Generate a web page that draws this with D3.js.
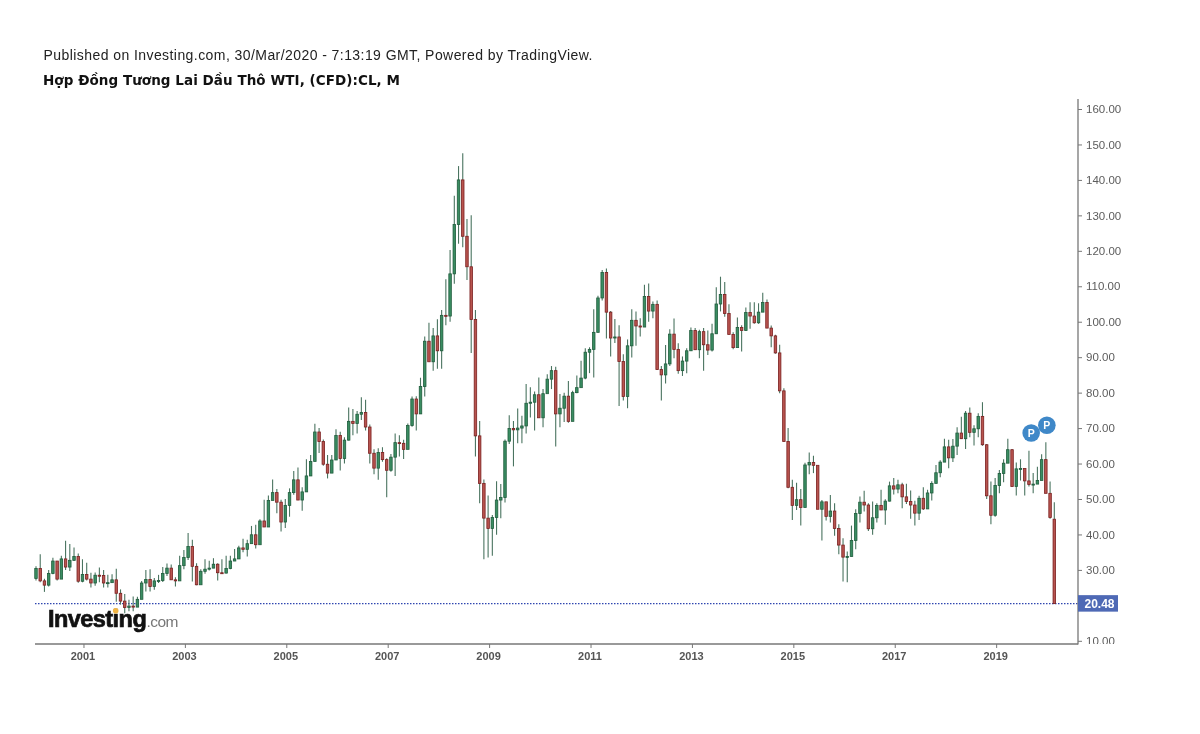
<!DOCTYPE html>
<html>
<head>
<meta charset="utf-8">
<script src="https://cdn.jsdelivr.net/npm/d3@7"></script>
<style>
  html, body { margin: 0; padding: 0; background: #fff; }
  svg { display: block; filter: blur(0.35px); }
</style>
</head>
<body>
<div id="chart"></div>
<script>
// monthly bars, Feb 2000 to Mar 2020, one row per year
const opens = [
  27.6, 30.4, 26.9, 25.7, 29.0, 32.5, 27.4, 33.1, 30.8, 32.7, 33.8,
  26.8, 28.7, 27.4, 26.3, 28.5, 28.4, 26.3, 26.4, 27.2, 23.4, 21.2, 19.4,
  19.8, 19.5, 21.7, 26.3, 27.3, 25.3, 26.9, 27.0, 29.0, 30.5, 27.2, 26.9,
  31.2, 33.5, 36.6, 31.0, 25.8, 29.6, 30.2, 30.5, 31.6, 29.2, 29.1, 30.4,
  32.5, 33.1, 36.2, 35.8, 37.4, 39.9, 37.1, 43.8, 42.1, 49.6, 51.8, 49.1,
  43.5, 48.2, 51.8, 55.4, 49.7, 52.0, 56.5, 60.6, 68.9, 66.2, 59.8, 57.3,
  61.0, 67.9, 61.4, 66.6, 71.9, 71.3, 73.9, 74.4, 70.3, 62.9, 58.7, 63.1,
  61.1, 58.1, 61.8, 65.9, 65.7, 64.0, 70.7, 78.2, 74.0, 81.7, 94.5, 88.7,
  96.0, 91.8, 101.8, 101.6, 113.5, 127.4, 140.0, 124.1, 115.5, 100.6, 67.8, 54.4,
  44.6, 41.7, 44.8, 49.7, 50.4, 66.3, 69.9, 69.5, 70.0, 70.6, 77.0, 77.3,
  79.4, 72.9, 79.7, 83.8, 86.2, 74.0, 75.6, 79.0, 71.9, 80.0, 81.4, 84.1,
  91.4, 92.2, 97.0, 106.7, 113.9, 102.7, 95.4, 95.7, 88.8, 78.9, 93.2, 100.4,
  98.8, 98.5, 107.1, 103.0, 104.9, 86.5, 85.0, 88.1, 96.5, 92.2, 86.2, 88.9,
  91.8, 97.5, 92.1, 97.2, 93.5, 92.0, 96.6, 105.0, 107.7, 102.3, 96.4, 92.7,
  98.4, 97.5, 102.6, 101.6, 99.7, 102.7, 105.4, 98.2, 96.0, 91.2, 80.5, 66.2,
  53.3, 48.2, 49.8, 47.6, 59.6, 60.3, 59.5, 47.1, 49.2, 45.1, 46.6, 41.7,
  37.0, 33.6, 33.8, 38.3, 45.9, 49.1, 48.3, 41.6, 44.7, 48.2, 46.9, 49.4,
  53.7, 52.8, 54.0, 50.6, 49.3, 48.3, 46.0, 50.2, 47.2, 51.7, 54.4, 57.4,
  60.4, 64.7, 61.6, 64.9, 68.6, 67.0, 74.2, 68.8, 69.8, 73.3, 65.3, 50.9,
  45.4, 53.8, 57.2, 60.1, 63.9, 53.5, 58.5, 58.6, 55.1, 54.1, 54.2, 55.2,
  61.1, 51.6, 44.3
]
const highs = [
  31, 34.4, 27.5, 30, 33.4, 32.5, 34, 38.2, 37.3, 36.3, 34.6,
  33, 32, 29.2, 29.3, 30.7, 30, 28.6, 28.8, 30.3, 24.5, 23.2, 21.6,
  22.5, 22.4, 26.9, 30, 30.2, 27.7, 28.6, 30.8, 31.8, 31.5, 27.9, 34,
  35.6, 40.4, 38.5, 31.9, 30.2, 33, 32.6, 33.3, 31.9, 33, 34, 34,
  35.9, 36.8, 38.8, 38.5, 42.4, 42.7, 44.3, 49.8, 51, 55.5, 52.8, 49.8,
  50, 53, 57.9, 58.9, 53.3, 61.2, 62.4, 71.2, 70, 66.8, 62.4, 62.4,
  69.7, 69, 67.4, 75.8, 75.4, 74.8, 78.7, 78, 71, 64, 64.3, 64.6,
  61.5, 62.7, 68.5, 68, 66.7, 71.3, 78.9, 79, 84.2, 95.8, 99.7, 98.2,
  100.7, 103.3, 112, 120.2, 135.5, 143.9, 147.5, 129, 130, 103.3, 72, 55.5,
  51, 45.5, 55, 54.2, 66.8, 73.6, 72, 75.5, 73.5, 82.4, 81.5, 80.3,
  84.3, 81, 85.2, 87.5, 87.3, 79.6, 80, 83.3, 80.5, 84.8, 89, 92.5,
  92.8, 103.5, 107.3, 114.6, 115, 103, 100.8, 99, 90.8, 95, 103.5, 102.9,
  101, 110.4, 110.8, 105.7, 106, 87.5, 93.4, 97.9, 100.9, 93.9, 90.2, 92.5,
  98.4, 98.2, 97.7, 98.2, 97.5, 99.4, 109.7, 112.7, 111.2, 104.9, 97, 101.2,
  99, 104, 105.5, 105.5, 105.2, 108.2, 106.3, 98.9, 96.3, 93.5, 81.2, 70,
  55.4, 54.6, 52.8, 60.2, 63.1, 62.2, 59.4, 49.7, 48.8, 51.1, 48.8, 42.9,
  38.9, 35.2, 42.5, 47.1, 50.7, 52.3, 48.8, 49.3, 48.8, 52.6, 49.9, 54.9,
  55.9, 55.4, 54.6, 54.3, 52.4, 49.5, 50.9, 53.3, 52.6, 55, 59.6, 60.9,
  67, 66.7, 66.9, 70.2, 73.2, 74.8, 75.8, 70.8, 74.2, 77.3, 65.5, 54.9,
  55.9, 58.2, 61.2, 67, 64.1, 60.3, 61.2, 58.5, 63.6, 57.3, 59.1, 62.6,
  66, 54.9, 49.1
]
const lows = [
  27, 26.5, 23.8, 25.3, 28.8, 27, 27.5, 30, 29.7, 32.5, 26.4,
  26.5, 27, 25, 25.5, 26.5, 25, 25, 26.5, 21, 20.2, 17.8, 18.3,
  18.3, 19.6, 21.8, 23.9, 23.9, 24.4, 26.3, 26.6, 28.3, 27.2, 25.3, 27.2,
  30.2, 32.8, 26.7, 25.7, 26, 28.9, 29.8, 30.5, 27, 29, 29, 30.2,
  32.5, 33.2, 35, 33.8, 37.5, 36, 37.4, 42.2, 42.2, 49.7, 46, 40.8,
  41.8, 45, 51.2, 49.8, 46.7, 52, 56.5, 60.8, 63, 59.4, 55.8, 57.4,
  61.4, 58, 60, 66.5, 68, 68.5, 72.3, 69.3, 60, 57, 55.4, 60.5,
  50.5, 57.7, 56.5, 62, 61.3, 64.5, 70.4, 69.3, 74, 78.9, 89, 86.2,
  86.7, 86.7, 99, 100, 110.7, 122, 121, 111.8, 91.2, 62, 48.8, 33,
  33.5, 34, 39.9, 44.6, 49, 65.5, 59.2, 65.7, 65.7, 68.5, 73, 69.3,
  73, 70.2, 80, 81, 64.8, 70.2, 71.7, 71.5, 72.5, 79.8, 81.7, 83.8,
  85.5, 84.3, 97, 106, 95.3, 90.2, 94, 76.2, 77.8, 75.6, 89.9, 93.2,
  95.8, 98.6, 100, 101, 86.4, 77.8, 82.6, 87.5, 89.7, 85.3, 84.7, 85.5,
  91.8, 92, 89.7, 86.2, 90.6, 91.6, 96.6, 102.9, 101.4, 96.6, 92.2, 92.8,
  91.6, 97.5, 98, 99.4, 99.4, 102.9, 98.2, 92.8, 91, 79.8, 66.2, 53,
  44.1, 46.9, 42.5, 47.9, 57, 57.3, 47.2, 38.3, 43.9, 43.4, 39.6, 34.4,
  26.7, 26.5, 33.8, 35.8, 43.4, 46.5, 41, 39.9, 43.4, 47.1, 42.7, 49.3,
  51.3, 51.6, 47.4, 48.6, 44.4, 42.5, 44.1, 46.9, 47.4, 49.6, 54.6, 56.1,
  60.6, 58.7, 60.4, 62.4, 66.9, 64.1, 67.4, 65.1, 67.4, 65, 50, 42.9,
  45, 51.6, 54.7, 60.2, 53.5, 51, 55.2, 51, 53.5, 51.6, 54.4, 55.7,
  51.6, 44.4, 20.48
]
const closes = [
  30.4, 26.9, 25.7, 29.0, 32.5, 27.4, 33.1, 30.8, 32.7, 33.8, 26.8,
  28.7, 27.4, 26.3, 28.5, 28.4, 26.3, 26.4, 27.2, 23.4, 21.2, 19.4, 19.8,
  19.5, 21.7, 26.3, 27.3, 25.3, 26.9, 27.0, 29.0, 30.5, 27.2, 26.9, 31.2,
  33.5, 36.6, 31.0, 25.8, 29.6, 30.2, 30.5, 31.6, 29.2, 29.1, 30.4, 32.5,
  33.1, 36.2, 35.8, 37.4, 39.9, 37.1, 43.8, 42.1, 49.6, 51.8, 49.1, 43.5,
  48.2, 51.8, 55.4, 49.7, 52.0, 56.5, 60.6, 68.9, 66.2, 59.8, 57.3, 61.0,
  67.9, 61.4, 66.6, 71.9, 71.3, 73.9, 74.4, 70.3, 62.9, 58.7, 63.1, 61.1,
  58.1, 61.8, 65.9, 65.7, 64.0, 70.7, 78.2, 74.0, 81.7, 94.5, 88.7, 96.0,
  91.8, 101.8, 101.6, 113.5, 127.4, 140.0, 124.1, 115.5, 100.6, 67.8, 54.4, 44.6,
  41.7, 44.8, 49.7, 50.4, 66.3, 69.9, 69.5, 70.0, 70.6, 77.0, 77.3, 79.4,
  72.9, 79.7, 83.8, 86.2, 74.0, 75.6, 79.0, 71.9, 80.0, 81.4, 84.1, 91.4,
  92.2, 97.0, 106.7, 113.9, 102.7, 95.4, 95.7, 88.8, 78.9, 93.2, 100.4, 98.8,
  98.5, 107.1, 103.0, 104.9, 86.5, 85.0, 88.1, 96.5, 92.2, 86.2, 88.9, 91.8,
  97.5, 92.1, 97.2, 93.5, 92.0, 96.6, 105.0, 107.7, 102.3, 96.4, 92.7, 98.4,
  97.5, 102.6, 101.6, 99.7, 102.7, 105.4, 98.2, 96.0, 91.2, 80.5, 66.2, 53.3,
  48.2, 49.8, 47.6, 59.6, 60.3, 59.5, 47.1, 49.2, 45.1, 46.6, 41.7, 37.0,
  33.6, 33.8, 38.3, 45.9, 49.1, 48.3, 41.6, 44.7, 48.2, 46.9, 49.4, 53.7,
  52.8, 54.0, 50.6, 49.3, 48.3, 46.0, 50.2, 47.2, 51.7, 54.4, 57.4, 60.4,
  64.7, 61.6, 64.9, 68.6, 67.0, 74.2, 68.8, 69.8, 73.3, 65.3, 50.9, 45.4,
  53.8, 57.2, 60.1, 63.9, 53.5, 58.5, 58.6, 55.1, 54.1, 54.2, 55.2, 61.1,
  51.6, 44.8, 20.48
]
const yearTicks = [2001, 2003, 2005, 2007, 2009, 2011, 2013, 2015, 2017, 2019]
const priceTicks = [10, 30, 40, 50, 60, 70, 80, 90, 100, 110, 120, 130, 140, 150, 160]
const lastPrice = 20.48
const pinMonths = ['2019-10', '2020-01']
const pinPrices = [68.6, 70.8]

const months = d3.timeMonths(new Date(2000, 1, 1), new Date(2020, 3, 1)).map(d3.timeFormat('%Y-%m'))

const svg = d3.select('#chart').append('svg')
  .attr('width', 1200)
  .attr('height', 734)

const x = d3.scalePoint().domain(months).range([36, 1054.3])
const y = d3.scaleLinear().domain([10, 160]).range([640.8, 109])

// header
svg.append('text')
  .attr('x', 43.5).attr('y', 60)
  .attr('font-family', '"Liberation Sans", Arial, sans-serif')
  .attr('font-size', 14)
  .attr('letter-spacing', 0.43)
  .attr('fill', '#222')
  .text('Published on Investing.com, 30/Mar/2020 - 7:13:19 GMT, Powered by TradingView.')

svg.append('text')
  .attr('x', 43).attr('y', 84.5)
  .attr('font-family', '"DejaVu Sans", sans-serif')
  .attr('font-weight', 'bold')
  .attr('font-size', 13.5)
  .attr('letter-spacing', 0.05)
  .attr('fill', '#111')
  .text('Hợp Đồng Tương Lai Dầu Thô WTI, (CFD):CL, M')

// last price line
svg.append('line')
  .attr('x1', 35).attr('x2', 1078)
  .attr('y1', y(lastPrice)).attr('y2', y(lastPrice))
  .attr('stroke', '#2f46b0')
  .attr('stroke-width', 1.1)
  .attr('stroke-dasharray', '1.5,1.5')

// logo
const logo = svg.append('g')
logo.append('text')
  .attr('x', 48).attr('y', 627)
  .attr('font-family', '"Liberation Sans", Arial, sans-serif')
  .attr('font-weight', 'bold')
  .attr('font-size', 23.5)
  .attr('letter-spacing', -0.55)
  .attr('stroke', '#111')
  .attr('stroke-width', 0.7)
  .attr('fill', '#111')
  .text('Investing')
logo.append('text')
  .attr('x', 146.5).attr('y', 627)
  .attr('font-family', '"Liberation Sans", Arial, sans-serif')
  .attr('font-size', 15.5)
  .attr('letter-spacing', -0.55)
  .attr('fill', '#777')
  .text('.com')
logo.append('circle')
  .attr('cx', 115.7).attr('cy', 610.8)
  .attr('r', 2.8)
  .attr('fill', '#f2b544')

// candles
const bars = months.map((m, i) => ({ m, o: opens[i], h: highs[i], l: lows[i], c: closes[i] }))

const candle = svg.append('g').selectAll('g.candle')
  .data(bars)
  .enter()
  .append('g')
  .attr('class', 'candle')
  .attr('transform', d => 'translate(' + [x(d.m), 0] + ')')

candle.append('line')
  .attr('y1', d => y(d.h))
  .attr('y2', d => y(d.l))
  .attr('stroke', '#4a7460')
  .attr('stroke-width', 1.1)

candle.append('rect')
  .attr('x', -1.25)
  .attr('width', 2.5)
  .attr('y', d => y(Math.max(d.o, d.c)))
  .attr('height', d => Math.max(1, Math.abs(y(d.o) - y(d.c))))
  .attr('fill', d => d.c >= d.o ? '#3a8d62' : '#b8544f')
  .attr('stroke', d => d.c >= d.o ? '#1f5c3c' : '#7a2020')
  .attr('stroke-width', 0.8)

// pins
const pin = svg.append('g').selectAll('g.pin')
  .data(pinMonths.map((m, i) => ({ m, p: pinPrices[i], dx: i ? 1 : -2 })))
  .enter()
  .append('g')
  .attr('class', 'pin')
  .attr('transform', d => 'translate(' + [x(d.m) + d.dx, y(d.p)] + ')')

pin.append('circle')
  .attr('r', 8.8)
  .attr('fill', '#3f88c8')

pin.append('text')
  .attr('text-anchor', 'middle')
  .attr('y', 3.8)
  .attr('font-family', '"Liberation Sans", Arial, sans-serif')
  .attr('font-weight', 'bold')
  .attr('font-size', 10.5)
  .attr('fill', '#fff')
  .text('P')

// axes
const yAxisGroup = svg.append('g')
  .attr('transform', 'translate(1078,0)')
  .call(d3.axisRight(y).tickValues(priceTicks).tickSize(4).tickPadding(4).tickFormat(d3.format('.2f')))

yAxisGroup.select('.domain').remove()
yAxisGroup.selectAll('line').attr('stroke', '#777')
yAxisGroup.selectAll('text')
  .attr('font-family', '"Liberation Sans", Arial, sans-serif')
  .attr('font-size', 11.5)
  .attr('fill', '#5c5c5c')

const xAxisGroup = svg.append('g')
  .attr('transform', 'translate(0,644)')
  .call(d3.axisBottom(x)
    .tickValues(yearTicks.map(d => d + '-01'))
    .tickSize(4)
    .tickPadding(4)
    .tickFormat(d => d.slice(0, 4)))

xAxisGroup.select('.domain').remove()
xAxisGroup.selectAll('line').attr('stroke', '#777').attr('transform', 'translate(1,0)')
xAxisGroup.selectAll('text')
  .attr('font-family', '"Liberation Sans", Arial, sans-serif')
  .attr('font-weight', 'bold')
  .attr('font-size', 11)
  .attr('fill', '#555')

// hide what falls under the time axis
svg.append('rect')
  .attr('x', 1080).attr('y', 644).attr('width', 50).attr('height', 12)
  .attr('fill', '#fff')

svg.append('line')
  .attr('x1', 35).attr('x2', 1078).attr('y1', 644).attr('y2', 644)
  .attr('stroke', '#777').attr('stroke-width', 1.3)
svg.append('line')
  .attr('x1', 1078).attr('x2', 1078).attr('y1', 99).attr('y2', 644.5)
  .attr('stroke', '#777').attr('stroke-width', 1.3)

// last price tag
svg.append('rect')
  .attr('x', 1078).attr('y', y(lastPrice) - 8.5)
  .attr('width', 40).attr('height', 16.5)
  .attr('fill', '#4e69b5')

svg.append('text')
  .attr('x', 1099.5).attr('y', y(lastPrice) + 4)
  .attr('text-anchor', 'middle')
  .attr('font-family', '"Liberation Sans", Arial, sans-serif')
  .attr('font-weight', 'bold')
  .attr('font-size', 12)
  .attr('fill', '#fff')
  .text(lastPrice.toFixed(2))
</script>
</body>
</html>
